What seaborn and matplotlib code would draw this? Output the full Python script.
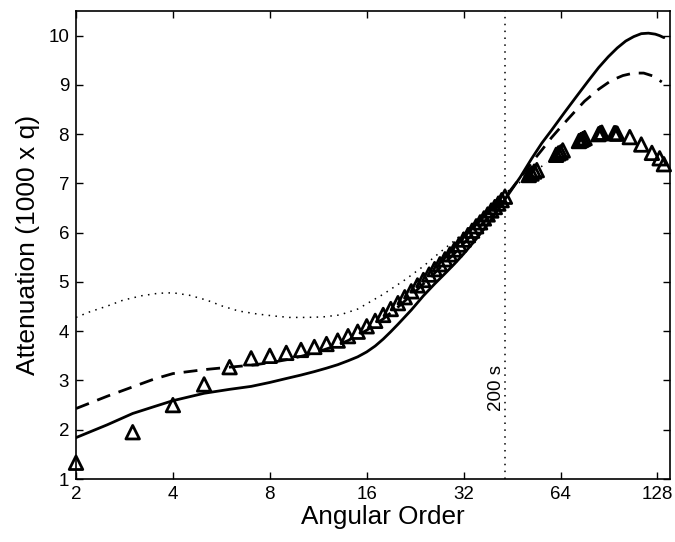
import matplotlib
matplotlib.use("Agg")
import matplotlib.pyplot as plt
import seaborn as sns
import pandas as pd

# ---- data ----
solid_l = [2, 2.5, 3, 3.5, 4, 5, 6, 7, 8, 9, 10, 11, 12, 13, 14, 15, 16, 17, 18, 19, 20,
           22, 24, 26, 28, 30, 32, 35, 38, 41, 44, 48, 52, 56, 60, 66, 72, 78, 84, 90,
           96, 102, 108, 114, 120, 126, 130, 134]
solid_q = [1.84, 2.10, 2.33, 2.47, 2.59, 2.74, 2.82, 2.88, 2.96, 3.04, 3.11, 3.18, 3.25,
           3.32, 3.40, 3.48, 3.58, 3.70, 3.84, 3.99, 4.14, 4.43, 4.72, 4.96, 5.17, 5.37,
           5.57, 5.87, 6.17, 6.47, 6.77, 7.13, 7.50, 7.82, 8.08, 8.45, 8.78, 9.08, 9.35,
           9.57, 9.75, 9.89, 9.98, 10.04, 10.05, 10.03, 10.00, 9.96]

dashed_l = [2, 2.5, 3, 3.5, 4, 5, 6, 7, 8, 9, 10, 11, 12, 13, 14, 16, 18, 20, 22, 24, 26,
            28, 30, 32, 35, 38, 41, 44, 48, 52, 56, 60, 64, 70, 76, 84, 92, 100, 108, 116,
            124, 132]
dashed_q = [2.43, 2.68, 2.87, 3.03, 3.14, 3.22, 3.27, 3.31, 3.36, 3.42, 3.49, 3.56, 3.64,
            3.72, 3.81, 4.02, 4.25, 4.49, 4.73, 4.96, 5.18, 5.39, 5.58, 5.78, 6.05, 6.30,
            6.55, 6.80, 7.12, 7.42, 7.68, 7.93, 8.14, 8.42, 8.67, 8.91, 9.09, 9.19, 9.24,
            9.24, 9.18, 9.06]

dotted_l = [2, 2.2, 2.5, 2.8, 3.2, 3.6, 4, 4.5, 5.1, 5.7, 6.4, 7.3, 8.2, 9.2, 10.4, 11.7,
            13.2, 15, 18, 21, 24, 27, 30, 34, 38, 43, 48, 53, 58]
dotted_q = [4.28, 4.39, 4.51, 4.63, 4.72, 4.77, 4.78, 4.73, 4.63, 4.51, 4.41, 4.35, 4.31,
            4.28, 4.28, 4.29, 4.33, 4.45, 4.75, 5.04, 5.32, 5.60, 5.84, 6.16, 6.46, 6.80,
            7.03, 7.24, 7.42]

obs_l = [2, 3, 4, 5, 6, 7, 8, 9, 10, 11, 12, 13, 14, 15, 16, 17, 18, 19, 20, 21, 22, 23,
         24, 25, 26, 27, 28, 29, 30, 31, 32, 33, 34, 35, 36, 37, 38, 39, 40, 41, 42, 43,
         51, 52, 53, 54, 62, 63, 64, 65, 73, 74, 75, 76, 84, 85, 86, 94, 95, 96,
         105, 114, 123, 130, 134]
obs_q = [1.33, 1.95, 2.50, 2.92, 3.27, 3.45, 3.50, 3.56, 3.62, 3.68, 3.74, 3.81, 3.90,
         3.99, 4.10, 4.21, 4.33, 4.45, 4.57, 4.69, 4.81, 4.93, 5.04, 5.15, 5.26, 5.36,
         5.46, 5.56, 5.66, 5.76, 5.86, 5.95, 6.04, 6.13, 6.21, 6.29, 6.37, 6.45, 6.52,
         6.59, 6.66, 6.73,
         7.17, 7.20, 7.24, 7.27, 7.58, 7.61, 7.63, 7.67, 7.86, 7.88, 7.90, 7.92,
         8.00, 8.02, 8.03, 8.02, 8.02, 8.01, 7.94, 7.79, 7.62, 7.51, 7.39]

period_l = 42.9
period_label = "200 s"
x_ticks = [2, 4, 8, 16, 32, 64, 128]
y_ticks = [1, 2, 3, 4, 5, 6, 7, 8, 9, 10]

# ---- plot ----
sns.set_style("ticks")
plt.rcParams["font.family"] = ["Liberation Sans", "DejaVu Sans"]
plt.rcParams.update({"text.color": "black", "axes.labelcolor": "black",
                     "xtick.color": "black", "ytick.color": "black",
                     "axes.edgecolor": "black"})

fig = plt.figure(figsize=(6.75, 5.42), dpi=100)
ax = fig.add_axes([76 / 675, 1 - 479 / 542, (670 - 76) / 675, (479 - 11) / 542])

dot_style = (0, (1, 3.5))
sns.lineplot(data=pd.DataFrame({"l": dotted_l, "q": dotted_q}), x="l", y="q", ax=ax,
             color="black", lw=1.1, linestyle=dot_style, sort=False)
sns.lineplot(data=pd.DataFrame({"l": dashed_l, "q": dashed_q}), x="l", y="q", ax=ax,
             color="black", lw=2.0, linestyle=(0, (5, 3.2)), sort=False)
sns.lineplot(data=pd.DataFrame({"l": solid_l, "q": solid_q}), x="l", y="q", ax=ax,
             color="black", lw=2.0, sort=False)
sns.scatterplot(data=pd.DataFrame({"l": obs_l, "q": obs_q}), x="l", y="q", ax=ax,
                marker="^", s=95, facecolor="none", edgecolor="black", linewidth=2.0,
                zorder=5, clip_on=False)

ax.axvline(period_l, color="black", lw=1.1, linestyle=dot_style)
ax.text(40.6, 2.85, period_label, rotation=90, ha="center", va="center", fontsize=13.5)

ax.set_xscale("log", base=2)
ax.set_xlim(2, 140)
ax.set_ylim(1, 10.5)
ax.set_xticks(x_ticks)
ax.set_xticklabels([str(t) for t in x_ticks])
ax.set_yticks(y_ticks)
ax.set_yticklabels([str(t) for t in y_ticks])
ax.minorticks_off()
ax.tick_params(direction="in", top=True, right=True, length=5, width=1,
               labelsize=13.5, pad=5)
for sp in ax.spines.values():
    sp.set_linewidth(1.2)
    sp.set_visible(True)
    sp.set_color("black")

ax.set_xlabel("Angular Order", fontsize=18.8, labelpad=2)
ax.xaxis.set_label_coords(0.517, -0.055)
ax.xaxis.label.set_va("top")
ax.set_ylabel("Attenuation (1000 x q)", fontsize=19, labelpad=6)

fig.savefig("out.png", dpi=100)
